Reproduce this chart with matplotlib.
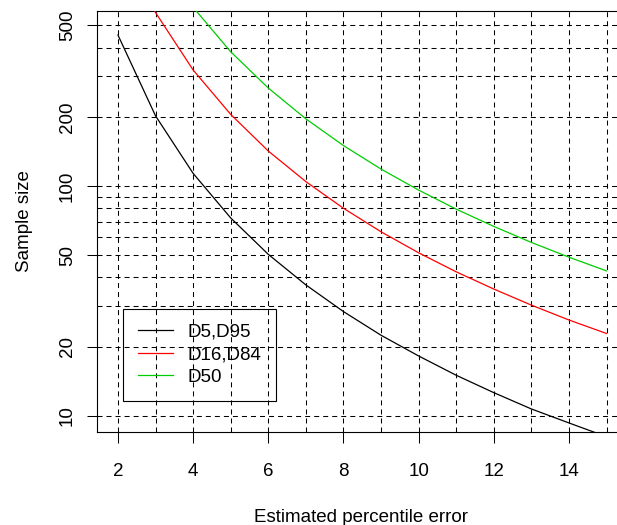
import matplotlib
matplotlib.use("Agg")
import matplotlib.pyplot as plt
from matplotlib.ticker import FixedLocator, NullFormatter, ScalarFormatter

plt.rcParams['font.family'] = ['Liberation Sans', 'DejaVu Sans']
plt.rcParams['lines.scale_dashes'] = False

error = [2, 3, 4, 5, 6, 7, 8, 9, 10, 11, 12, 13, 14, 15]
d5_d95 = [454, 202, 113.5, 72.6, 50.4, 37.1, 28.4, 22.4, 18.2, 15.0, 12.6, 10.7, 9.3, 8.1]
d16_d84 = [1280, 569, 320, 205, 142, 104.5, 80, 63.2, 51.2, 42.3, 35.6, 30.3, 26.1, 22.8]
d50 = [2400, 1067, 600, 384, 267, 196, 150, 118.5, 96, 79.3, 66.7, 56.8, 49, 42.7]

x_major = [2, 4, 6, 8, 10, 12, 14]
y_major = [10, 20, 50, 100, 200, 500]
y_minor = [30, 40, 60, 70, 80, 90, 300, 400]

W, H = 617, 525
fs = 13.5
dash = (0, (3.6, 2.9))

fig = plt.figure(figsize=(W / 100, H / 100), dpi=100)
ax = fig.add_axes([97.3 / W, (H - 431.7) / H, 529.9 / W, 421 / H])

ax.plot(error, d5_d95, color='black', lw=0.9, label='D5,D95', zorder=3)
ax.plot(error, d16_d84, color='red', lw=0.9, label='D16,D84', zorder=3)
ax.plot(error, d50, color='#00CD00', lw=0.9, label='D50', zorder=3)

ax.set_yscale('log')
ax.set_xlim(1.45, 15.55)
ax.set_ylim(8.518, 579.8)

ax.xaxis.set_major_locator(FixedLocator(x_major))
ax.xaxis.set_minor_locator(FixedLocator(error))
ax.yaxis.set_major_locator(FixedLocator(y_major))
ax.yaxis.set_minor_locator(FixedLocator(y_minor))
ax.yaxis.set_major_formatter(ScalarFormatter())
ax.yaxis.set_minor_formatter(NullFormatter())

ax.tick_params(axis='x', which='major', length=8, width=0.75, pad=14.6, labelsize=fs)
ax.tick_params(axis='y', which='major', length=7.2, width=0.75, pad=8.2, labelsize=fs)
ax.tick_params(which='minor', length=0)
plt.setp(ax.get_yticklabels(), rotation=90, va='center')

ax.grid(True, which='both', color='black', lw=0.75, linestyle=dash)
for s in ax.spines.values():
    s.set_linewidth(0.8)
    s.set_color('black')

fig.text(361.5 / W, 3.3 / H, 'Estimated percentile error', fontsize=fs,
         ha='center', va='baseline')
fig.text(29.3 / W, (H - 221.2) / H, 'Sample size', fontsize=fs, rotation=90,
         rotation_mode='anchor', ha='center', va='baseline')

leg = ax.legend(loc='upper left', bbox_to_anchor=((123 - 97.3) / 529.9, (431.7 - 308.7) / 421),
                borderaxespad=0, fontsize=fs, fancybox=False, framealpha=1,
                handlelength=1.9, handletextpad=0.78, labelspacing=0.3, borderpad=0.78)
leg.get_frame().set_facecolor('none')
leg.get_frame().set_edgecolor('black')
leg.get_frame().set_linewidth(0.8)

fig.savefig('out.png', dpi=100)
